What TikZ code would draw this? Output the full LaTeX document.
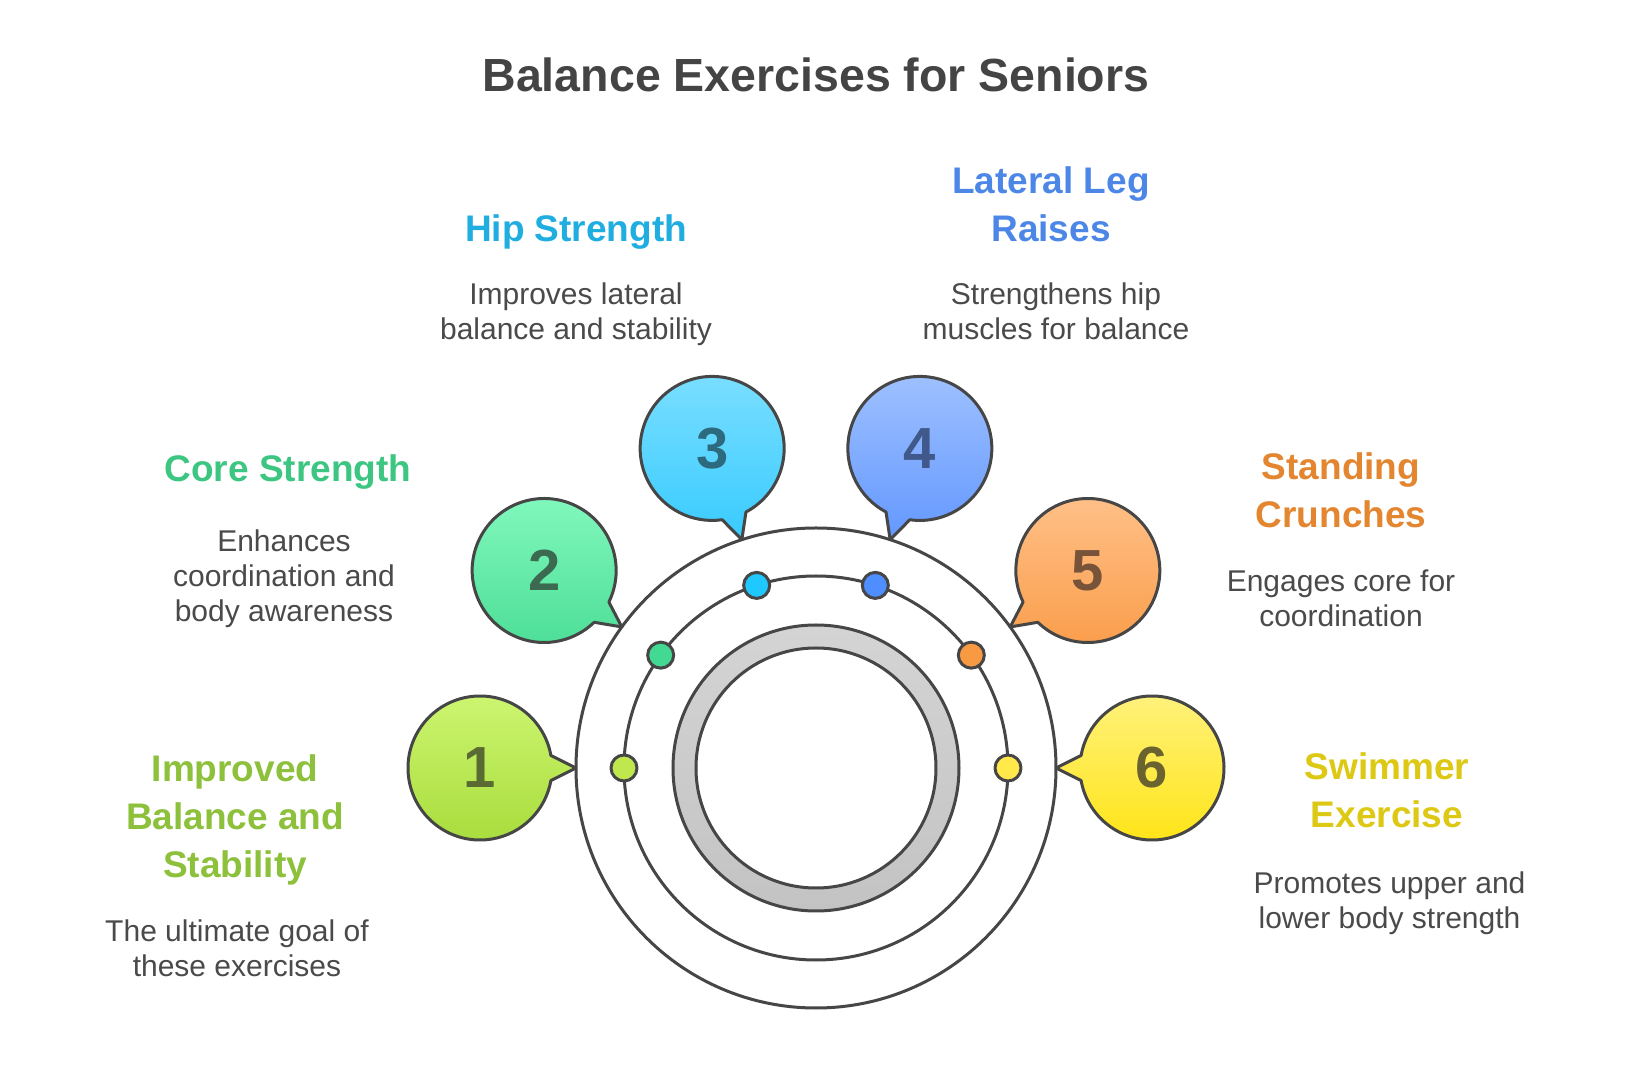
\documentclass[tikz,border=0pt]{standalone}
\usepackage{fontspec}
\setmainfont{Liberation Sans}
\definecolor{lc}{HTML}{464646}
\definecolor{dtx}{HTML}{4A4A4A}
\definecolor{ttx}{HTML}{444444}
\definecolor{l1}{HTML}{8DC03B}
\definecolor{l2}{HTML}{3DC681}
\definecolor{l3}{HTML}{20AEE0}
\definecolor{l4}{HTML}{4C87E8}
\definecolor{l5}{HTML}{E3862F}
\definecolor{l6}{HTML}{DDC814}
\definecolor{t1}{HTML}{CDF672}\definecolor{u1}{HTML}{A8DC3B}
\definecolor{t2}{HTML}{84F9BF}\definecolor{u2}{HTML}{4CDE96}
\definecolor{t3}{HTML}{7DDFFF}\definecolor{u3}{HTML}{38CBFF}
\definecolor{t4}{HTML}{9FC1FF}\definecolor{u4}{HTML}{6398FF}
\definecolor{t5}{HTML}{FFC18A}\definecolor{u5}{HTML}{FA9D4A}
\definecolor{t6}{HTML}{FFF27E}\definecolor{u6}{HTML}{FFE415}
\definecolor{p1}{HTML}{BEE84E}
\definecolor{p2}{HTML}{42DA93}
\definecolor{p3}{HTML}{1FC8FF}
\definecolor{p4}{HTML}{4F8EFF}
\definecolor{p5}{HTML}{F89A42}
\definecolor{p6}{HTML}{FFE94B}
\definecolor{n1}{HTML}{5A6A33}
\definecolor{n2}{HTML}{3C6A50}
\definecolor{n3}{HTML}{2D6A7E}
\definecolor{n4}{HTML}{40598A}
\definecolor{n5}{HTML}{77533A}
\definecolor{n6}{HTML}{6A6330}
\definecolor{rgt}{HTML}{D4D4D4}
\definecolor{rgb}{HTML}{C3C3C3}
\begin{document}
\begin{tikzpicture}[x=1pt,y=1pt,line join=round,
  ln/.style={draw=lc,line width=3pt},
  ringnode/.style={circle,draw=lc,line width=3pt,inner sep=0pt,outer sep=0pt},
  ttl/.style={font=\bfseries\fontsize{37}{48}\selectfont,align=center,anchor=base},
  dsc/.style={font=\fontsize{30}{35}\selectfont,text=dtx,align=center,anchor=base},
  num/.style={font=\bfseries\fontsize{58}{58}\selectfont},
  dotnode/.style={circle,draw=lc,line width=3pt,minimum size=26pt,inner sep=0pt}]
\useasboundingbox (-816,-315) rectangle (816,768);
\fill[white] (-816,-315) rectangle (816,768);
% title
\node[font=\bfseries\fontsize{46.5}{50}\selectfont,text=ttx,anchor=base] (title) at (0,676) {Balance Exercises for Seniors};
% rings
\node[ringnode,minimum size=480pt] (outer) at (0,0) {};
\node[ringnode,minimum size=384pt] (mid) at (0,0) {};
\node[ringnode,minimum size=286pt,top color=rgt,bottom color=rgb] (gray) at (0,0) {};
\node[ringnode,minimum size=240pt,fill=white] (inner) at (0,0) {};
% bubbles and dots
\foreach \i/\a in {1/180,2/144,3/108,4/72,5/36,6/0}{
  \coordinate (b\i) at (\a:336);
  \path[ln,top color=t\i,bottom color=u\i] (b\i) ++(\a+190:72)
     arc[start angle=\a+190,end angle=\a+530,radius=72] -- (outer.\a) -- cycle;
  \node[num,text=n\i] (num\i) at (b\i) {\i};
  \node[dotnode,fill=p\i] (d\i) at (\a:192) {};
}
% labels (anchor = baseline of the last line)
\node[ttl,text=l1] (lab1) at (-581,-109.7) {Improved\\Balance and\\Stability};
\node[dsc] (desc1) at (-579,-208.7) {The ultimate goal of\\these exercises};
\node[ttl,text=l2] (lab2) at (-528,286.3) {Core Strength};
\node[dsc] (desc2) at (-532,146.3) {Enhances\\coordination and\\body awareness};
\node[ttl,text=l3] (lab3) at (-240,526.3) {Hip Strength};
\node[dsc] (desc3) at (-240,428) {Improves lateral\\balance and stability};
\node[ttl,text=l4] (lab4) at (235,526.7) {Lateral Leg\\Raises};
\node[dsc] (desc4) at (240,428) {Strengthens hip\\muscles for balance};
\node[ttl,text=l5] (lab5) at (525,240.7) {Standing\\Crunches};
\node[dsc] (desc5) at (525,141.3) {Engages core for\\coordination};
\node[ttl,text=l6] (lab6) at (571,-60) {Swimmer\\Exercise};
\node[dsc] (desc6) at (573.5,-160.3) {Promotes upper and\\lower body strength};
\end{tikzpicture}
\end{document}
